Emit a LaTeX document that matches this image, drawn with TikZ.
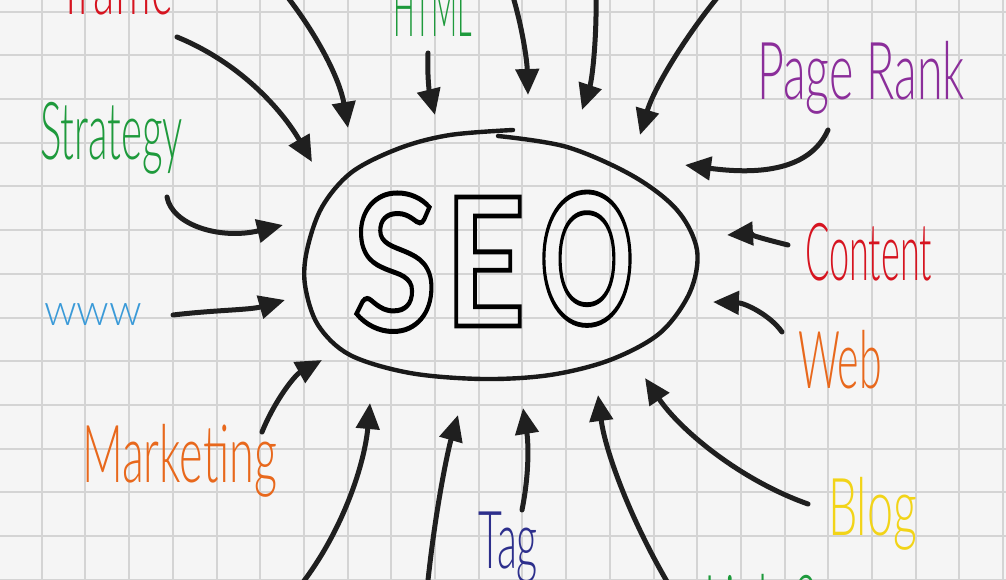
\documentclass[tikz,border=0pt]{standalone}
\usepackage{fontspec}
\usepackage{graphicx}
\usetikzlibrary{arrows.meta}
\newfontfamily\hand{Lato Light}
\newfontfamily\seofont{Lato}
\definecolor{bgc}{RGB}{245,245,245}
\definecolor{gridc}{RGB}{212,212,212}
\definecolor{cred}{RGB}{214,20,32}
\definecolor{cgreen}{RGB}{30,154,60}
\definecolor{cblue}{RGB}{58,154,216}
\definecolor{corange}{RGB}{232,104,28}
\definecolor{cnavy}{RGB}{45,47,140}
\definecolor{cyellow}{RGB}{242,212,24}
\definecolor{cpurple}{RGB}{139,46,154}
\newcommand\lbl[3]{{\hand\fontsize{#1}{#1}\selectfont\resizebox{#2pt}{\height}{#3}}}
\newcommand\seoglyph[3]{{\seofont\bfseries\fontsize{188}{188}\selectfont\resizebox{#1pt}{#2pt}{\special{pdf:literal direct 1 Tr 5 w}#3\special{pdf:literal direct 0 Tr}}}}
\begin{document}
\begin{tikzpicture}[x=1pt,y=-1pt,
  gridline/.style={draw=gridc,line width=2pt},
  lab/.style={anchor=base west,inner sep=0pt,outer sep=0pt},
  seo/.style={anchor=base,inner sep=0pt,outer sep=0pt,text=black},
  ring/.style={draw=black!90,line width=4.4pt,line cap=round},
  arr/.style={draw=black!88,line width=5pt,line cap=round,-{Triangle[length=26pt,width=23pt]}}]
\useasboundingbox (0,0) rectangle (1006,580);
\clip (0,0) rectangle (1006,580);
\fill[bgc] (0,0) rectangle (1006,580);
\foreach \k in {-1,...,22} \draw[gridline] ({41.7+43.7*\k},0) -- ({41.7+43.7*\k},580);
\foreach \k in {0,...,13} \draw[gridline] (0,{11.7+43.7*\k}) -- (1006,{11.7+43.7*\k});
% ring
\draw[ring] plot[smooth,tension=0.55] coordinates {(498,136) (567,147) (633,176) (677,210) (697,250) (690,292) (660,333) (610,360) (550,375) (483,379) (410,373) (350,355) (318,325) (305,285) (307,250) (322,207) (352,172) (400,148) (450,135) (513,130)};
% SEO
\node[seo] (seoS) at (395,330) {\seoglyph{84}{137}{S}};
\node[seo] (seoE) at (485,326) {\seoglyph{80}{129}{E}};
\node[seo] (seoO) at (587,324) {\seoglyph{95}{132}{O}};
% labels
\node[lab,text=cred] (traffic) at (58,15) {\lbl{80}{114}{Traffic}};
\node[lab,text=cgreen] (html) at (393,37) {\lbl{80}{79}{HTML}};
\node[lab,text=cgreen] (strategy) at (40,160) {\lbl{80}{143}{Strategy}};
\node[lab,text=cblue] (www) at (44,325) {\lbl{44}{98}{www}};
\node[lab,text=corange] (marketing) at (82,482) {\lbl{80}{195}{Marketing}};
\node[lab,text=cnavy] (tag) at (478,568) {\lbl{80}{60}{Tag}};
\node[lab,text=cgreen] (links) at (704,632) {\lbl{80}{112}{Links?}};
\node[lab,text=cyellow] (blog) at (828,535) {\lbl{80}{89}{Blog}};
\node[lab,text=corange] (web) at (798,388) {\lbl{80}{84}{Web}};
\node[lab,text=cred] (content) at (805,280) {\lbl{80}{127}{Content}};
\node[lab,text=cpurple] (pagerank) at (757,100) {\lbl{80}{208}{Page Rank}};
% arrow end points
\coordinate (s1) at (177,37);  \coordinate (t1) at (312,162);
\coordinate (s2) at (282,-10); \coordinate (t2) at (348,128);
\coordinate (s3) at (428,53);  \coordinate (t3) at (435,115);
\coordinate (s4) at (511,-10); \coordinate (t4) at (528,95);
\coordinate (s5) at (596,-10); \coordinate (t5) at (582,110);
\coordinate (s6) at (722,-8);  \coordinate (t6) at (640,135);
\coordinate (s7) at (828,130); \coordinate (t7) at (685,165);
\coordinate (s8) at (788,245); \coordinate (t8) at (727,235);
\coordinate (s9) at (782,332); \coordinate (t9) at (713,302);
\coordinate (s10) at (808,504); \coordinate (t10) at (645,378);
\coordinate (s11) at (672,590); \coordinate (t11) at (598,395);
\coordinate (s12) at (522,510); \coordinate (t12) at (523,408);
\coordinate (s13) at (297,590); \coordinate (t13) at (370,403);
\coordinate (s14) at (427,590); \coordinate (t14) at (458,415);
\coordinate (s15) at (262,432); \coordinate (t15) at (322,360);
\coordinate (s16) at (167,197); \coordinate (t16) at (283,225);
\coordinate (s17) at (173,315); \coordinate (t17) at (285,300);
\draw[arr] (s1) .. controls (245,65) and (285,115) .. (t1);
\draw[arr] (s2) .. controls (318,35) and (340,80) .. (t2);
\draw[arr] (s3) .. controls (427,80) and (430,95) .. (t3);
\draw[arr] (s4) .. controls (522,25) and (527,60) .. (t4);
\draw[arr] (s5) .. controls (597,40) and (592,80) .. (t5);
\draw[arr] (s6) .. controls (690,30) and (655,85) .. (t6);
\draw[arr] (s7) .. controls (810,170) and (760,175) .. (t7);
\draw[arr] (s8) .. controls (768,240) and (745,234) .. (t8);
\draw[arr] (s9) .. controls (770,315) and (745,303) .. (t9);
\draw[arr] (s10) .. controls (740,480) and (680,430) .. (t10);
\draw[arr] (s11) .. controls (630,520) and (605,450) .. (t11);
\draw[arr] (s12) .. controls (530,470) and (528,440) .. (t12);
\draw[arr] (s13) .. controls (345,530) and (365,460) .. (t13);
\draw[arr] (s14) .. controls (435,510) and (448,450) .. (t14);
\draw[arr] (s15) .. controls (275,400) and (295,375) .. (t15);
\draw[arr] (s16) .. controls (172,225) and (220,240) .. (t16);
\draw[arr] (s17) .. controls (215,310) and (250,310) .. (t17);
\end{tikzpicture}
\end{document}
